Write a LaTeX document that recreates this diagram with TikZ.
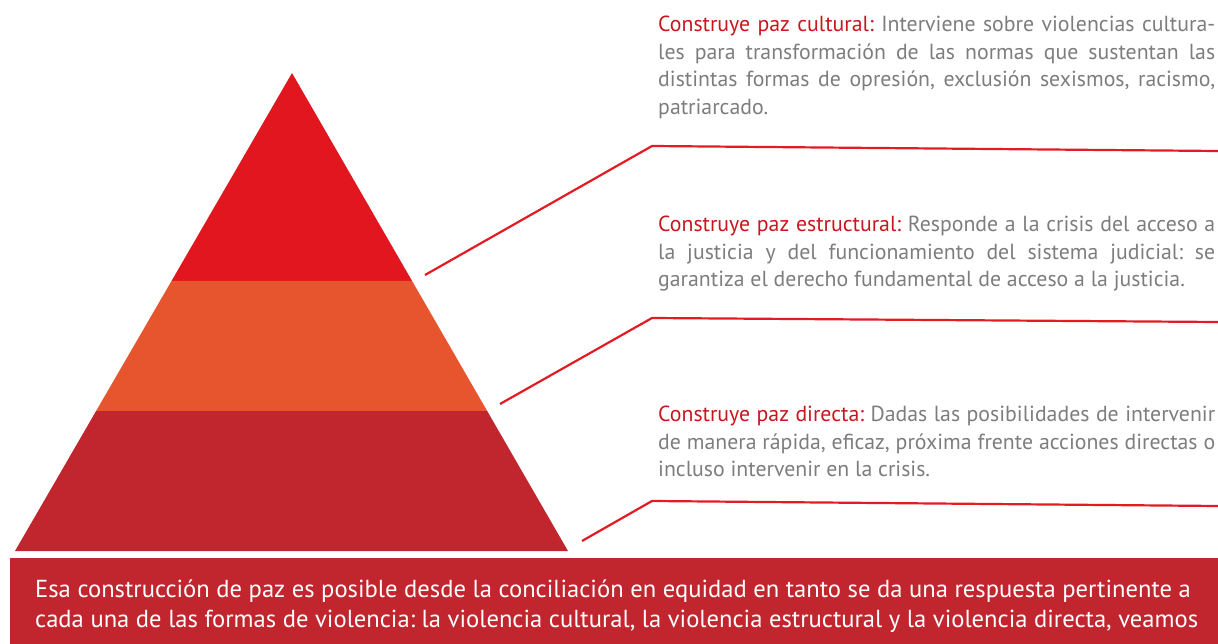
\documentclass[tikz,border=0pt]{standalone}
\usepackage{fontspec}
\setmainfont{PT Sans}
\frenchspacing
\definecolor{topred}{HTML}{E1161F}
\definecolor{midorange}{HTML}{E6552E}
\definecolor{botred}{HTML}{C1262E}
\definecolor{labelred}{HTML}{C8161E}
\definecolor{linered}{HTML}{E31B23}
\definecolor{bodygray}{HTML}{7D7D7D}
\tikzset{
  leader/.style={draw=linered, line width=2.2pt},
  desc/.style={anchor=north west, inner sep=0pt, text width=557pt, align=justify,
    font=\fontsize{21.8}{27.6}\selectfont\frenchspacing, text=bodygray},
  bannerbox/.style={fill=botred, draw=none, inner sep=0pt},
  bantext/.style={anchor=north west, inner sep=0pt, align=left, text=white,
    font=\fontsize{24.6}{30}\selectfont\frenchspacing}
}
\newcommand{\lab}[1]{\textcolor{labelred}{#1}}
\begin{document}
\begin{tikzpicture}[x=1pt,y=-1pt]
\useasboundingbox (0,0) rectangle (1218,644);
% pyramid tiers
\fill[topred] (292,73) -- (412.1,281) -- (171.5,281) -- cycle;
\fill[midorange] (171.5,281) -- (412.1,281) -- (487.2,411) -- (96.1,411) -- cycle;
\fill[botred] (96.1,411) -- (487.2,411) -- (568,551) -- (15,551) -- cycle;
% leader coordinates
\coordinate (a1) at (425,275);
\coordinate (e1) at (652,146);
\coordinate (r1) at (1218,151);
\coordinate (a2) at (500,404);
\coordinate (e2) at (652,318);
\coordinate (r2) at (1218,322);
\coordinate (a3) at (582,541);
\coordinate (e3) at (652,501);
\coordinate (r3) at (1218,506);
\draw[leader] (a1) -- (e1) -- (r1);
\draw[leader] (a2) -- (e2) -- (r2);
\draw[leader] (a3) -- (e3) -- (r3);
% descriptions
\node[desc] (cultural) at (658,16) {\lab{Construye paz cultural:} Interviene sobre violencias cultura-\linebreak les para transformación de las normas que sustentan las\linebreak distintas formas de opresión, exclusión sexismos, racismo,\linebreak patriarcado.};
\node[desc] (estructural) at (658,216) {\lab{Construye paz estructural:} Responde a la crisis del acceso a\linebreak la justicia y del funcionamiento del sistema judicial: se\linebreak garantiza el derecho fundamental de acceso a la justicia.};
\node[desc] (directa) at (658,406) {\lab{Construye paz directa:} Dadas las posibilidades de intervenir\linebreak de manera rápida, eficaz, próxima frente acciones directas o\linebreak incluso intervenir en la crisis.};
% banner
\fill[bannerbox] (10,558) rectangle (1218,644);
\node[bantext] (bantxt) at (35,580) {Esa construcción de paz es posible desde la conciliación en equidad en tanto se da una respuesta pertinente a\\cada una de las formas de violencia: la violencia cultural, la violencia estructural y la violencia directa, veamos};
\end{tikzpicture}
\end{document}
